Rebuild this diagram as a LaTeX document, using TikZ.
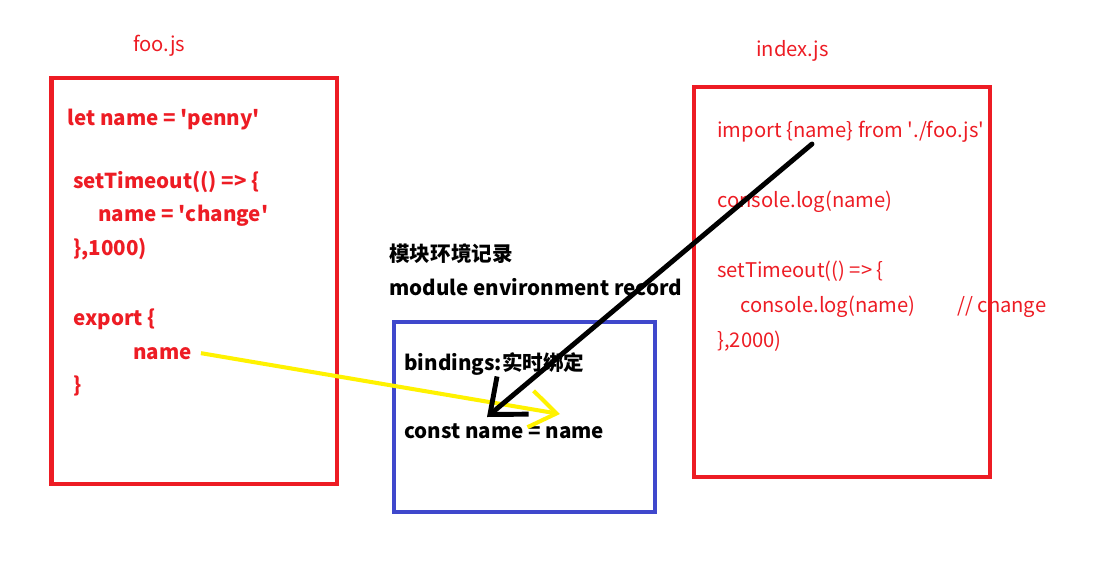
\documentclass[tikz,border=0pt]{standalone}
\usepackage{fontspec}
\setmainfont{Noto Sans CJK SC}
\usetikzlibrary{arrows.meta}
\definecolor{paintred}{RGB}{237,28,36}
\definecolor{paintblue}{RGB}{63,72,204}
\definecolor{paintyellow}{RGB}{255,242,0}
\newcommand{\sq}{\textquotesingle}
\tikzset{
    codetext/.style={anchor=base west,inner sep=0pt,font=\fontsize{11.5}{13}\selectfont},
    boldcode/.style={codetext,font=\fontsize{11.7}{13}\selectfont\bfseries},
    framebox/.style={line width=2.4pt}
}

\begin{document}
\begin{tikzpicture}[x=0.02cm,y=-0.02cm]
    \useasboundingbox(0,0)rectangle(1116,579);
    % foo.js
    \node[codetext,paintred](footitle)at(133,51){foo.js};
    \draw[framebox,paintred](51.5,78)rectangle(337,484);
    \node[boldcode,paintred](letname)at(67,125){let name = \sq penny\sq};
    \node[boldcode,paintred](footimer)at(73,188){setTimeout(() => \{};
    \node[boldcode,paintred](assign)at(98,221){name = \sq change\sq};
    \node[boldcode,paintred](fooclose)at(73,255){\},1000)};
    \node[boldcode,paintred](export)at(73,325){export \{};
    \node[boldcode,paintred](expname)at(133,359){name};
    \node[boldcode,paintred](expclose)at(73,392){\}};
    % index.js
    \node[codetext,paintred](idxtitle)at(756,56){index.js};
    \draw[framebox,paintred](694,87)rectangle(990,477);
    \node[codetext,paintred](import)at(717,137){import \{name\} from \sq./foo.js\sq};
    \node[codetext,paintred](log)at(717,207){console.log(name)};
    \node[codetext,paintred](idxtimer)at(717,277){setTimeout(() => \{};
    \node[codetext,paintred](innerlog)at(740,312){console.log(name)};
    \node[codetext,paintred](comment)at(957,312){// change};
    \node[codetext,paintred](idxclose)at(717,347){\},2000)};
    % module environment record
    \node[boldcode](mertitle)at(389,261){模块环境记录};
    \node[boldcode](mername)at(389,295){module environment record};
    \draw[framebox,paintblue](394,322)rectangle(655,512);
    \node[boldcode](bindings)at(404,370){bindings:实时绑定};
    \node[boldcode](constname)at(404,438){const name = name};
    % arrows
    \coordinate(yeltip)at(560,414);
    \coordinate(impfrom)at(812,144);
    \coordinate(bindtip)at(487,417);
    \draw[paintyellow,line width=2.3pt,-{Straight Barb[length=15pt,width=21pt]}]([xshift=5pt]expname.east)--(yeltip);
    \draw[black,line width=2.8pt,line cap=round,-{Straight Barb[length=17pt,width=28pt]}](impfrom)--(bindtip);
\end{tikzpicture}
\end{document}
